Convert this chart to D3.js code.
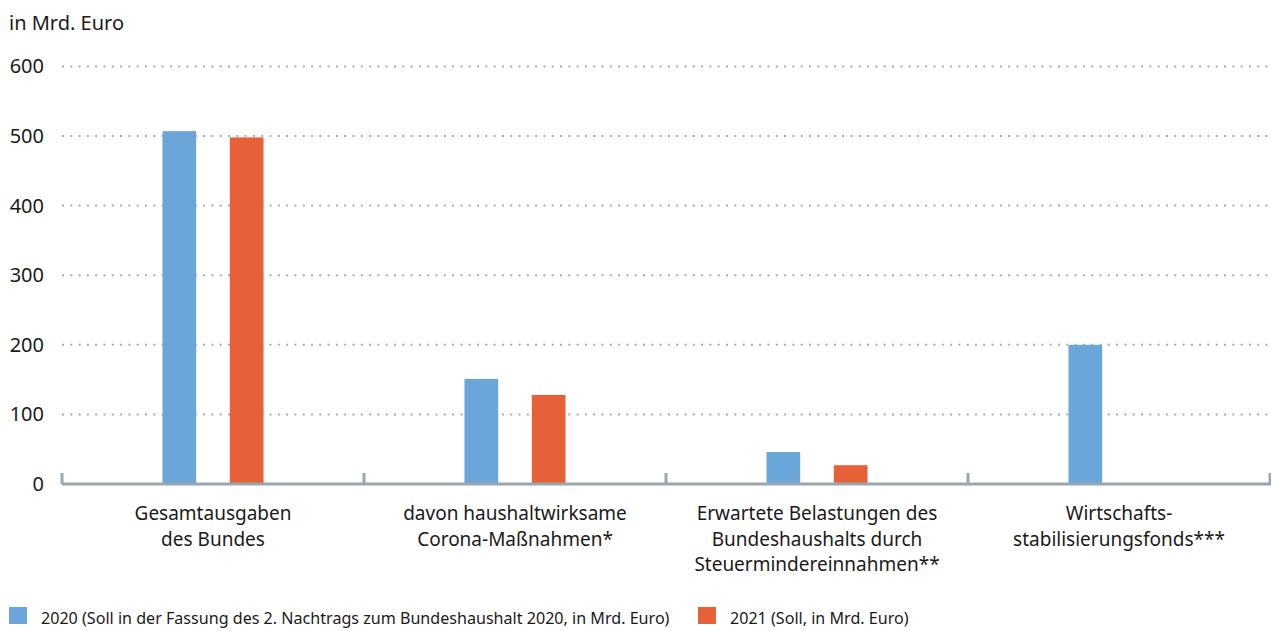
<!DOCTYPE html>
<html>
<head>
<meta charset="utf-8">
<script src="https://cdn.jsdelivr.net/npm/d3@7"></script>
<style>
    body { margin: 0; background: #fff; }
    svg { display: block; font-family: "Noto Sans", sans-serif; }
</style>
</head>
<body>
<svg id="chart"></svg>
<script>
// chart data
let categories = [
    ["Gesamtausgaben", "des Bundes"],
    ["davon haushaltwirksame", "Corona-Maßnahmen*"],
    ["Erwartete Belastungen des", "Bundeshaushalts durch", "Steuermindereinnahmen**"],
    ["Wirtschafts-", "stabilisierungsfonds***"]
];
let series = ["2020", "2021"];
let values2020 = [507, 151, 46, 200];
let values2021 = [498, 128, 27, null];
let yTicks = [0, 100, 200, 300, 400, 500, 600];
let legendLabels = [
    "2020 (Soll in der Fassung des 2. Nachtrags zum Bundeshaushalt 2020, in Mrd. Euro)",
    "2021 (Soll, in Mrd. Euro)"
];
let yTitle = "in Mrd. Euro";

let width = 1271;
let height = 631;
let colors = {"2020": "#6aa6d9", "2021": "#e66138"};
let axisColor = "#9aa6ae";

let svg = d3.select("#chart")
    .attr("width", width)
    .attr("height", height);

let plotLeft = 62, plotRight = 1270, plotTop = 66.4, plotBottom = 484;

let xScale = d3.scaleBand()
    .domain(d3.range(categories.length))
    .range([plotLeft, plotRight]);

let xInner = d3.scaleBand()
    .domain(series)
    .range([100.5, 201.5])
    .paddingInner(0.5);

let yScale = d3.scaleLinear()
    .domain([0, 600])
    .range([plotBottom, plotTop]);

// y title
svg.append("text")
    .attr("x", 9)
    .attr("y", 30)
    .attr("font-size", 20)
    .attr("fill", "#1a1a1a")
    .text(yTitle);

// grid lines
svg.append("g").selectAll("line")
    .data(yTicks.filter(d => d > 0))
    .enter().append("line")
    .attr("x1", plotLeft)
    .attr("x2", width)
    .attr("y1", d => yScale(d))
    .attr("y2", d => yScale(d))
    .attr("stroke", "#a3adb5")
    .attr("stroke-width", 2)
    .attr("stroke-dasharray", "2,6.3");

// y labels
svg.append("g").selectAll("text")
    .data(yTicks)
    .enter().append("text")
    .attr("x", 44)
    .attr("y", d => yScale(d) + 7)
    .attr("text-anchor", "end")
    .attr("font-size", 20)
    .attr("fill", "#1a1a1a")
    .text(d => d);

// bars
let rows = categories.map((c, i) => ({i: i, "2020": values2020[i], "2021": values2021[i]}));
let groups = svg.append("g").selectAll("g")
    .data(rows)
    .enter().append("g")
    .attr("transform", d => "translate(" + xScale(d.i) + ",0)");

groups.selectAll("rect")
    .data(d => series.filter(s => d[s] != null).map(s => ({key: s, value: d[s]})))
    .enter().append("rect")
    .attr("x", d => xInner(d.key))
    .attr("width", xInner.bandwidth())
    .attr("y", d => yScale(d.value))
    .attr("height", d => plotBottom - yScale(d.value))
    .attr("fill", d => colors[d.key]);

// x axis line and ticks
svg.append("line")
    .attr("x1", plotLeft)
    .attr("x2", width)
    .attr("y1", plotBottom)
    .attr("y2", plotBottom)
    .attr("stroke", axisColor)
    .attr("stroke-width", 3);

let tickPos = d3.range(categories.length).map(i => xScale(i)).concat([plotRight]);
svg.append("g").selectAll("line")
    .data(tickPos)
    .enter().append("line")
    .attr("x1", d => d)
    .attr("x2", d => d)
    .attr("y1", plotBottom - 11)
    .attr("y2", plotBottom)
    .attr("stroke", axisColor)
    .attr("stroke-width", 3);

// category labels
let labels = svg.append("g").selectAll("text")
    .data(categories)
    .enter().append("text")
    .attr("text-anchor", "middle")
    .attr("font-size", 19)
    .attr("fill", "#1a1a1a")
    .attr("transform", (d, i) => "translate(" + (xScale(i) + xScale.bandwidth() / 2) + ",520)");

labels.selectAll("tspan")
    .data(d => d)
    .enter().append("tspan")
    .attr("x", 0)
    .attr("y", (d, i) => i * 25.5)
    .text(d => d);

// legend
let legendX = [9, 698];
let legend = svg.append("g").selectAll("g")
    .data(series)
    .enter().append("g")
    .attr("transform", (d, i) => "translate(" + legendX[i] + ",607)");

legend.append("rect")
    .attr("width", 18)
    .attr("height", 17)
    .attr("fill", d => colors[d]);

legend.append("text")
    .attr("x", 32)
    .attr("y", 17)
    .attr("font-size", 16.1)
    .attr("fill", "#1a1a1a")
    .text((d, i) => legendLabels[i]);
</script>
</body>
</html>
